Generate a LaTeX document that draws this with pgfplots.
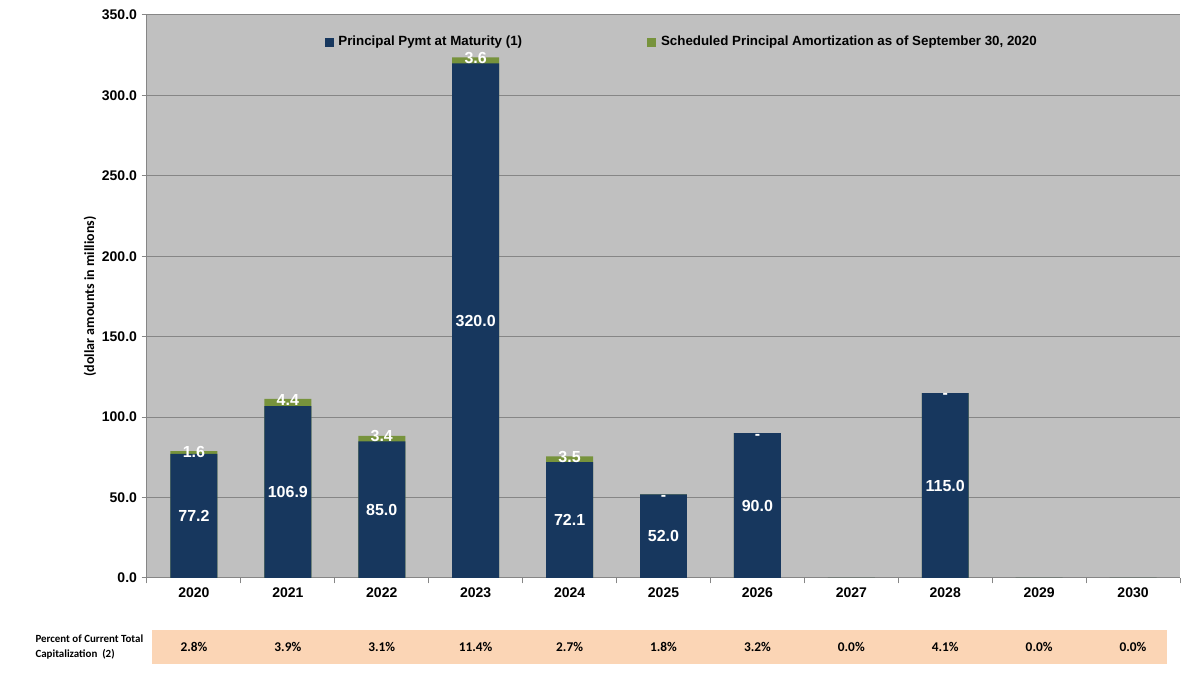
\documentclass[border=0pt]{standalone}
\usepackage{fontspec}
\setmainfont{Liberation Sans}
\newfontfamily\calfont{Carlito}
\usepackage{pgfplots}
\pgfplotsset{compat=1.18}

\definecolor{navy}{HTML}{17375E}
\definecolor{olivegreen}{HTML}{77933C}
\definecolor{plotgray}{HTML}{C0C0C0}
\definecolor{gridgray}{HTML}{868686}
\definecolor{peach}{HTML}{FBD5B5}

\begin{document}
\begin{tikzpicture}
\useasboundingbox (0,0) rectangle (900pt,505.5pt);
\begin{axis}[
  at={(110.25pt,72pt)}, anchor=south west,
  scale only axis, width=774.75pt, height=422.25pt,
  ybar, bar width=0.5,
  clip=false,
  xmin=-0.5, xmax=10.5, ymin=0, ymax=350,
  xtick={0,1,2,3,4,5,6,7,8,9,10},
  xticklabels={2020,2021,2022,2023,2024,2025,2026,2027,2028,2029,2030},
  major x tick style={draw=none},
  extra x ticks={-0.5,0.5,1.5,2.5,3.5,4.5,5.5,6.5,7.5,8.5,9.5,10.5},
  extra x tick labels={},
  extra x tick style={major x tick style={draw=gridgray, line width=0.75pt}, grid=none},
  ytick={0,50,100,150,200,250,300,350},
  ymajorgrids,
  major grid style={draw=gridgray, line width=0.75pt},
  major y tick style={draw=gridgray, line width=0.75pt},
  tick align=outside, major tick length=4pt,
  axis x line*=bottom, axis y line*=left,
  axis line style={draw=gridgray, line width=0.75pt, -},
  axis background/.style={fill=plotgray},
  ticklabel style={font=\bfseries\fontsize{10.5}{12}\selectfont},
  yticklabel style={/pgf/number format/.cd, fixed, fixed zerofill, precision=1, assume math mode=true},
  ylabel={(dollar amounts in millions)},
  ylabel style={at={(axis description cs:-0.0552,0.5)}, anchor=center, font=\calfont\bfseries\fontsize{10.5}{12}\selectfont},
  legend columns=2,
  legend style={at={(axis description cs:0.518,0.952)}, anchor=center, draw=none, fill=none,
    font=\bfseries\fontsize{10}{12}\selectfont,
    /tikz/every even column/.append style={column sep=92pt}},
]
% total height (maturity + amortization), green visible on top
\addplot[fill=olivegreen, draw=none, bar shift=0pt, forget plot] coordinates {
  (0,78.8) (1,111.3) (2,88.4) (3,323.6) (4,75.6) (5,52.0) (6,90.0) (7,0) (8,115.0) (9,0) (10,0)};
% principal payment at maturity
\addplot[fill=navy, draw=none, bar shift=0pt, forget plot] coordinates {
  (0,77.2) (1,106.9) (2,85.0) (3,320.0) (4,72.1) (5,52.0) (6,90.0) (7,0) (8,115.0) (9,0) (10,0)};
% labels of principal (centred in segment)
\addplot[draw=none, fill=none, bar shift=0pt, forget plot,
  nodes near coords, point meta=explicit symbolic,
  every node near coord/.append style={anchor=center, text=white,
    font=\bfseries\fontsize{12}{14}\selectfont}] coordinates {
  (0,38.6) [77.2] (1,53.45) [106.9] (2,42.5) [85.0] (3,160) [320.0] (4,36.05) [72.1]
  (5,26) [52.0] (6,45) [90.0] (8,57.5) [115.0]};
% labels of amortization (at top)
\addplot[draw=none, fill=none, bar shift=0pt, forget plot,
  nodes near coords, point meta=explicit symbolic,
  every node near coord/.append style={anchor=center, text=white,
    font=\bfseries\fontsize{12}{14}\selectfont, yshift=-0.5pt}] coordinates {
  (0,78.8) [1.6] (1,111.3) [4.4] (2,88.4) [3.4] (3,323.6) [3.6] (4,75.6) [3.5]};
% zero amortization shown as dashes
\addplot[draw=none, fill=none, bar shift=0pt, forget plot,
  nodes near coords, point meta=explicit symbolic,
  every node near coord/.append style={anchor=center, text=white,
    font=\bfseries\fontsize{12}{14}\selectfont, yshift=-2.5pt}] coordinates {
  (5,52.0) [-] (6,90.0) [-] (8,115.0) [-]};

\addlegendimage{legend image code/.code={\fill[navy] (0pt,-2.9pt) rectangle (5.8pt,2.9pt); \path (7.8pt,0pt);}}
\addlegendentry{Principal Pymt at Maturity (1)}
\addlegendimage{legend image code/.code={\fill[olivegreen] (0pt,-2.9pt) rectangle (5.8pt,2.9pt); \path (7.8pt,0pt);}}
\addlegendentry{Scheduled Principal Amortization as of September 30, 2020}

\fill[peach] (axis cs:-0.447,-32.5) rectangle (axis cs:10.36,-53.75);
\begin{scope}[every node/.style={font=\calfont\bfseries\fontsize{10}{12}\selectfont}]
\node at (axis cs:0,-43) {2.8\%};
\node at (axis cs:1,-43) {3.9\%};
\node at (axis cs:2,-43) {3.1\%};
\node at (axis cs:3,-43) {11.4\%};
\node at (axis cs:4,-43) {2.7\%};
\node at (axis cs:5,-43) {1.8\%};
\node at (axis cs:6,-43) {3.2\%};
\node at (axis cs:7,-43) {0.0\%};
\node at (axis cs:8,-43) {4.1\%};
\node at (axis cs:9,-43) {0.0\%};
\node at (axis cs:10,-43) {0.0\%};
\end{scope}
\node[anchor=west, align=left, inner sep=0pt, font=\calfont\bfseries\fontsize{8.2}{11}\selectfont] at (axis cs:-1.69,-43) {Percent of Current Total\\Capitalization\ \ (2)};
\end{axis}
\end{tikzpicture}
\end{document}
